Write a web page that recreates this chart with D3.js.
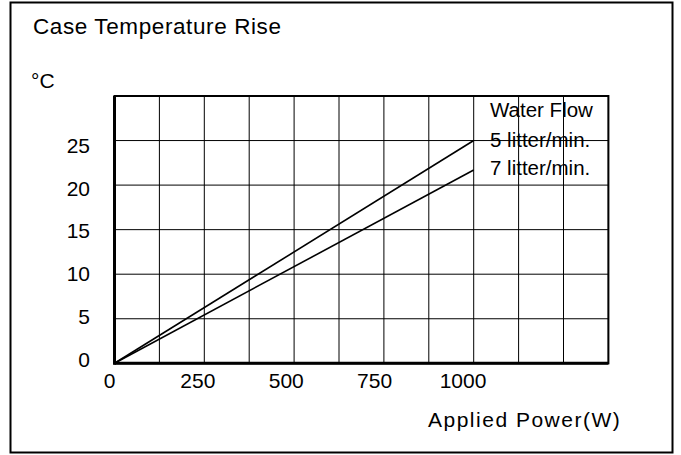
<!DOCTYPE html>
<html><head><meta charset="utf-8">
<script src="https://cdn.jsdelivr.net/npm/d3@7"></script>
<style>
html,body{margin:0;padding:0;background:#fff;}
text{font-family:"Liberation Sans",Arial,sans-serif;fill:#000;}
</style></head>
<body>
<svg id="chart" width="681" height="455"></svg>
<script>
// ---- data ----
const powerW = [0, 1000];
const rise5 = [0, 25];     // 5 litter/min.
const rise7 = [0, 21.7];   // 7 litter/min.
const xTickValues = [0, 250, 500, 750, 1000];
const yTickValues = [0, 5, 10, 15, 20, 25];
const xGridValues = d3.range(0, 1376, 125);
const yGridValues = d3.range(0, 31, 5);
const legendLines = ["Water Flow", "5 litter/min.", "7 litter/min."];

(function () {
const svg = d3.select("#chart");
const pL = 114.5, pR = 608.4, pT = 96, pB = 363.3;
const x = d3.scaleLinear().domain([0, 1375]).range([pL, pR]);
const y = d3.scaleLinear().domain([0, 30]).range([pB, pT]);
// label placement scales (labels are slightly offset from grid in the original)
const xLab = d3.scaleLinear().domain([0, 1000]).range([109.5, 463]);
const yLab = d3.scaleLinear().domain([0, 25]).range([359, 145.5]);

// outer frame
svg.append("rect").attr("x", 10.5).attr("y", 2.5).attr("width", 662).attr("height", 450)
  .attr("fill", "none").attr("stroke", "#000").attr("stroke-width", 2);

// grid
svg.append("g").selectAll("line").data(xGridValues).join("line")
  .attr("x1", d => x(d)).attr("x2", d => x(d)).attr("y1", pT).attr("y2", pB)
  .attr("stroke", "#000").attr("stroke-width", 1);
svg.append("g").selectAll("line").data(yGridValues).join("line")
  .attr("x1", pL).attr("x2", pR).attr("y1", d => y(d)).attr("y2", d => y(d))
  .attr("stroke", "#000").attr("stroke-width", 1);

// plot border
svg.append("rect").attr("x", pL).attr("y", pT).attr("width", pR - pL).attr("height", pB - pT)
  .attr("fill", "none").attr("stroke", "#000").attr("stroke-width", 2);
// thicker left & bottom axes
svg.append("line").attr("x1", pL).attr("x2", pL).attr("y1", pT).attr("y2", pB + 1.5)
  .attr("stroke", "#000").attr("stroke-width", 3);
svg.append("line").attr("x1", pL).attr("x2", pR).attr("y1", pB).attr("y2", pB)
  .attr("stroke", "#000").attr("stroke-width", 3);

// series lines
const line = d3.line().x(d => x(d[0])).y(d => y(d[1]));
[rise5, rise7].forEach(s => {
  svg.append("path").datum(powerW.map((p, i) => [p, s[i]]))
    .attr("d", line).attr("fill", "none").attr("stroke", "#000").attr("stroke-width", 1.6);
});

// tick labels
svg.append("g").selectAll("text").data(yTickValues).join("text")
  .attr("x", 90).attr("y", d => yLab(d)).attr("dy", "0.36em")
  .attr("text-anchor", "end").attr("font-size", 21).text(d => d);
svg.append("g").selectAll("text").data(xTickValues).join("text")
  .attr("x", d => xLab(d)).attr("y", 387.5)
  .attr("text-anchor", "middle").attr("font-size", 21).text(d => d);

// titles
svg.append("text").attr("x", 33).attr("y", 34).attr("font-size", 22.5)
  .attr("letter-spacing", 0.6).text("Case Temperature Rise");
svg.append("text").attr("x", 31).attr("y", 88).attr("font-size", 21).text("°C");
svg.append("text").attr("x", 428).attr("y", 427).attr("font-size", 21)
  .attr("letter-spacing", 1.5).text("Applied Power(W)");

// legend text
const legY = [116.7, 147.3, 174.5];
svg.append("g").selectAll("text").data(legendLines).join("text")
  .attr("x", 490).attr("y", (d, i) => legY[i]).attr("font-size", 20.5).text(d => d);
})();
</script>
</body></html>
